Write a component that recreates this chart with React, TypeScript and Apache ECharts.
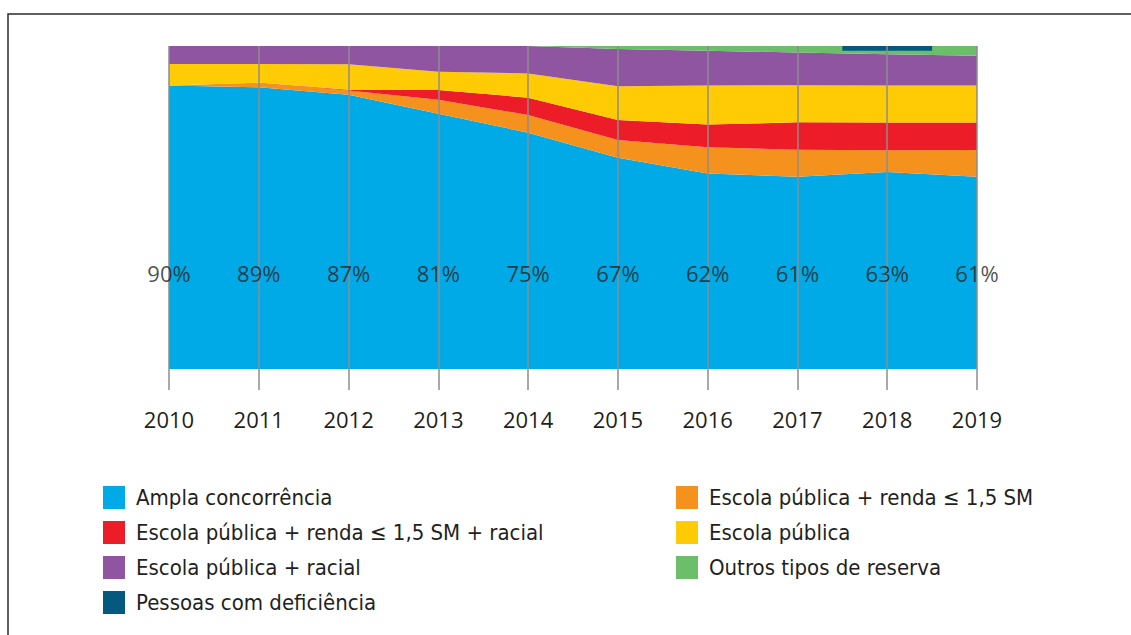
import React, { useEffect, useRef } from "react";
import * as echarts from "echarts";

const years = ["2010", "2011", "2012", "2013", "2014", "2015", "2016", "2017", "2018", "2019"];
const ampla = [90, 89.4, 87, 81, 75, 67, 62, 61, 62.5, 61];
const rendaSM = [0, 1.5, 1.4, 4.45, 5.6, 5.7, 8.35, 8.6, 6.9, 8.5];
const rendaRacial = [0, 0, 0.2, 3.1, 5.5, 6.35, 7.2, 8.7, 8.8, 8.75];
const publica = [6.8, 5.9, 8.1, 5.8, 7.7, 10.7, 12.4, 11.75, 11.75, 11.75];
const publicaRacial = [5.7, 5.7, 5.8, 8.15, 8.7, 11.8, 11.05, 10.35, 9.95, 9.4];
const outros = [0, 0, 0, 0, 0, 0.95, 1.5, 2.1, 2.6, 3.1];
const deficiencia: (number | null)[] = [null, null, null, null, null, null, null, 0, 1.5, 0];
const amplaLabels = ["90%", "89%", "87%", "81%", "75%", "67%", "62%", "61%", "63%", "61%"];

const TOTAL = 102.5;
const LABEL_LEVEL = 30.5;

const names = {
  ampla: "Ampla concorrência",
  renda: "Escola pública + renda \u2264 1,5 SM",
  rendaRacial: "Escola pública + renda \u2264 1,5 SM + racial",
  publica: "Escola pública",
  publicaRacial: "Escola pública + racial",
  outros: "Outros tipos de reserva",
  pcd: "Pessoas com deficiência",
};

const colors = {
  ampla: "#00aae6",
  renda: "#f5921e",
  rendaRacial: "#ec1c28",
  publica: "#fecb05",
  publicaRacial: "#8f55a0",
  outros: "#6cbe6a",
  pcd: "#05597f",
};

const legendFont = "'Liberation Sans Narrow', 'DejaVu Sans Condensed', 'Liberation Sans', sans-serif";
const axisFont = "'Open Sans', 'DejaVu Sans', sans-serif";

function areaSeries(name: string, data: number[], color: string) {
  return {
    name,
    type: "line",
    stack: "total",
    data,
    color,
    showSymbol: false,
    symbol: "none",
    lineStyle: { width: 0, color },
    areaStyle: { color, opacity: 1 },
    z: 2,
  };
}

export default function App() {
  const ref = useRef<HTMLDivElement>(null);
  useEffect(() => {
    if (!ref.current) return;
    const chart = echarts.init(ref.current, undefined, { renderer: "svg" });
    const legendText = {
      fontSize: 22,
      fontFamily: legendFont,
      color: "#231f20",
      padding: [0, 0, 0, 6],
    };
    chart.setOption({
      animation: false,
      backgroundColor: "#ffffff",
      grid: { left: 169, right: 154, top: 46, bottom: 266 },
      xAxis: {
        type: "category",
        data: years,
        boundaryGap: false,
        z: 10,
        axisLine: { show: false },
        axisTick: { show: true, length: 21, lineStyle: { color: "#8c8c8c", width: 1.5 } },
        splitLine: { show: true, lineStyle: { color: "#8c8c8c", width: 1.5 } },
        axisLabel: { margin: 39, fontSize: 22, fontFamily: axisFont, color: "#231f20" },
      },
      yAxis: {
        type: "value",
        min: 0,
        max: TOTAL,
        show: false,
        splitLine: { show: false },
      },
      legend: [
        {
          orient: "vertical",
          left: 103,
          top: 486,
          itemWidth: 22,
          itemHeight: 23,
          itemGap: 12,
          padding: 0,
          icon: "rect",
          selectedMode: false,
          textStyle: legendText,
          data: [names.ampla, names.rendaRacial, names.publicaRacial, names.pcd],
        },
        {
          orient: "vertical",
          left: 676,
          top: 486,
          itemWidth: 22,
          itemHeight: 23,
          itemGap: 12,
          padding: 0,
          icon: "rect",
          selectedMode: false,
          textStyle: legendText,
          data: [names.renda, names.publica, names.outros],
        },
      ],
      series: [
        areaSeries(names.ampla, ampla, colors.ampla),
        areaSeries(names.renda, rendaSM, colors.renda),
        areaSeries(names.rendaRacial, rendaRacial, colors.rendaRacial),
        areaSeries(names.publica, publica, colors.publica),
        areaSeries(names.publicaRacial, publicaRacial, colors.publicaRacial),
        areaSeries(names.outros, outros, colors.outros),
        {
          name: names.pcd,
          type: "line",
          data: deficiencia.map((v) => (v === null ? "-" : TOTAL - v)),
          color: colors.pcd,
          step: "middle",
          showSymbol: false,
          symbol: "none",
          lineStyle: { width: 0, color: colors.pcd },
          areaStyle: { color: colors.pcd, opacity: 1, origin: "end" },
          z: 3,
        },
        {
          name: "labels",
          type: "scatter",
          data: years.map(() => LABEL_LEVEL),
          symbolSize: 1,
          itemStyle: { color: "rgba(0,0,0,0)" },
          z: 12,
          silent: true,
          label: {
            show: true,
            position: "inside",
            formatter: (p: any) => amplaLabels[p.dataIndex],
            fontSize: 22,
            fontFamily: axisFont,
            color: "#231f20",
          },
        },
      ],
      graphic: [
        {
          type: "rect",
          shape: { x: 8, y: 14, width: 1200, height: 700 },
          style: { fill: "none", stroke: "#2b2b2b", lineWidth: 1.5 },
          silent: true,
        },
      ],
    });
    return () => chart.dispose();
  }, []);
  return (
    <div
      ref={ref}
      style={{ position: "absolute", left: 0, top: 0, width: 1131, height: 635 }}
    />
  );
}
